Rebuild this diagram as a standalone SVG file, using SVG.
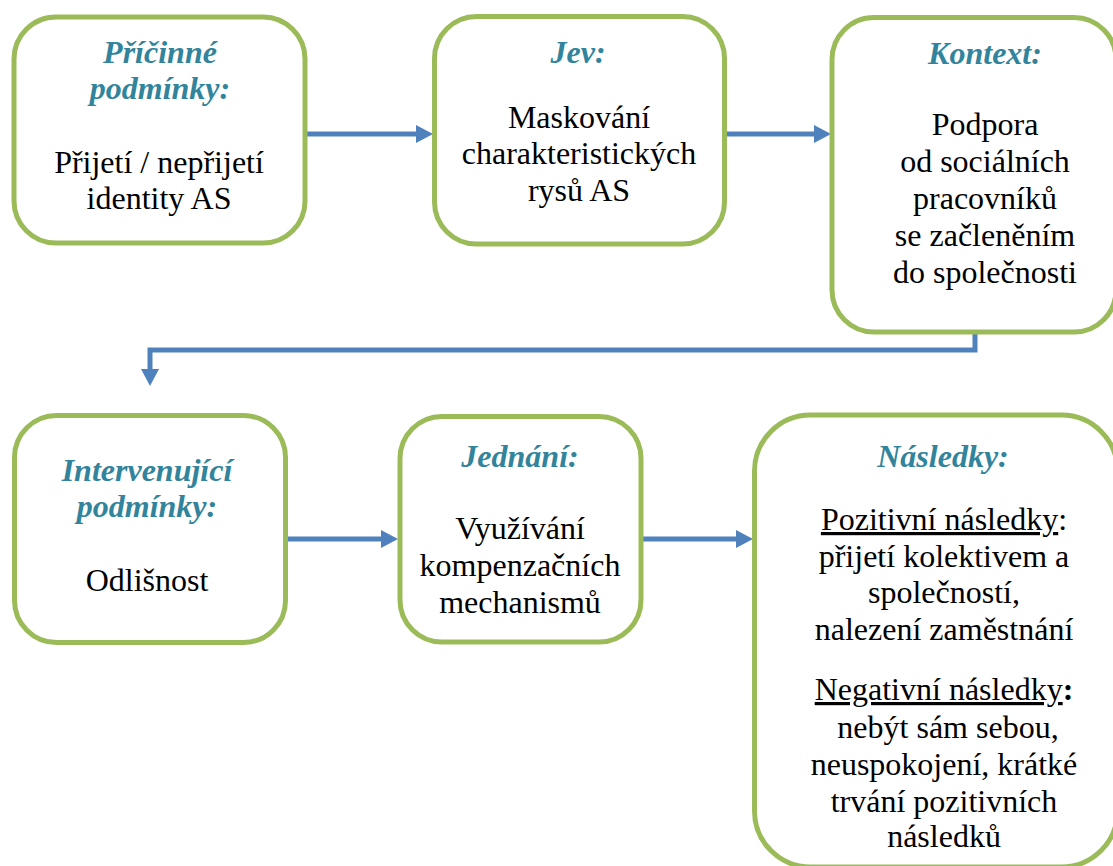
<svg xmlns="http://www.w3.org/2000/svg" width="1113" height="866" viewBox="0 0 1113 866">
<style>
.box{fill:#fff;stroke:#9BBB59;stroke-width:5}
text{font-family:'Liberation Serif','Tinos','Noto Serif','DejaVu Serif','Times New Roman',Times,serif}
.t{font-size:32px;font-weight:bold;font-style:italic;fill:#31849B;text-anchor:middle}
.b{font-size:32px;fill:#000;text-anchor:middle}
.u{text-decoration:underline}
.c{fill:none;stroke:#4F81BD;stroke-width:5}
</style>
<defs>
<marker id="ah" markerUnits="userSpaceOnUse" markerWidth="18" markerHeight="18" refX="0" refY="9" orient="auto">
<path d="M0,0 L17,9 L0,18 z" fill="#4F81BD"/>
</marker>
</defs>
<rect width="1113" height="866" fill="#fff"/>
<g id="connectors">
<line class="c" x1="305" y1="134" x2="416" y2="134" marker-end="url(#ah)"/>
<line class="c" x1="724" y1="134" x2="814" y2="134" marker-end="url(#ah)"/>
<polyline class="c" points="975,332 975,350 150,350 150,369" marker-end="url(#ah)"/>
<line class="c" x1="285" y1="539" x2="381" y2="539" marker-end="url(#ah)"/>
<line class="c" x1="641" y1="539" x2="736" y2="539" marker-end="url(#ah)"/>
</g>
<g id="pricinne">
<rect class="box" x="14" y="17" width="291" height="226" rx="42"/>
<text class="t" x="160" y="63">Příčinné</text>
<text class="t" x="160" y="99">podmínky:</text>
<text class="b" x="159" y="173">Přijetí / nepřijetí</text>
<text class="b" x="159" y="209">identity AS</text>
</g>
<g id="jev">
<rect class="box" x="434.5" y="16.5" width="290" height="227.5" rx="42"/>
<text class="t" x="578" y="63">Jev:</text>
<text class="b" x="579" y="128">Maskování</text>
<text class="b" x="579" y="164">charakteristických</text>
<text class="b" x="579" y="201">rysů AS</text>
</g>
<g id="kontext">
<rect class="box" x="832" y="17.5" width="284" height="314.5" rx="42"/>
<text class="t" x="985" y="64">Kontext:</text>
<text class="b" x="985" y="135">Podpora</text>
<text class="b" x="985" y="172">od sociálních</text>
<text class="b" x="985" y="209">pracovníků</text>
<text class="b" x="985" y="246">se začleněním</text>
<text class="b" x="985" y="283">do společnosti</text>
</g>
<g id="intervenujici">
<rect class="box" x="14.5" y="415.5" width="271" height="227" rx="42"/>
<text class="t" x="147" y="481">Intervenující</text>
<text class="t" x="147" y="517">podmínky:</text>
<text class="b" x="147" y="591">Odlišnost</text>
</g>
<g id="jednani">
<rect class="box" x="400" y="416.5" width="241" height="225.5" rx="42"/>
<text class="t" x="520" y="467">Jednání:</text>
<text class="b" x="520" y="539">Využívání</text>
<text class="b" x="520" y="576">kompenzačních</text>
<text class="b" x="520" y="613">mechanismů</text>
</g>
<g id="nasledky">
<rect class="box" x="754.5" y="415" width="363" height="452" rx="56"/>
<text class="t" x="943" y="467">Následky:</text>
<text class="b" x="944" y="530"><tspan class="u">Pozitivní následky</tspan>:</text>
<text class="b" x="944" y="567">přijetí kolektivem a</text>
<text class="b" x="944" y="603">společností,</text>
<text class="b" x="944" y="640">nalezení zaměstnání</text>
<text class="b" x="944" y="700"><tspan class="u">Negativní následky</tspan><tspan font-weight="bold">:</tspan></text>
<text class="b" x="948" y="738">nebýt sám sebou,</text>
<text class="b" x="944" y="775">neuspokojení, krátké</text>
<text class="b" x="944" y="812">trvání pozitivních</text>
<text class="b" x="944" y="847">následků</text>
</g>
</svg>
